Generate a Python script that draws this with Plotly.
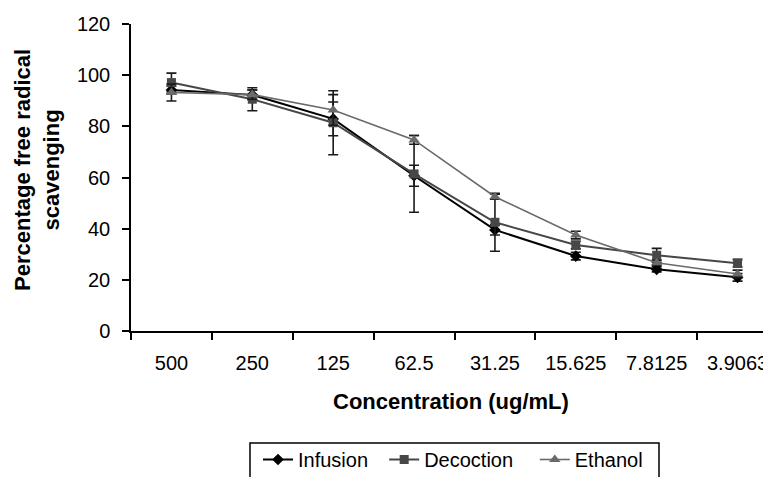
import plotly.graph_objects as go

categories = ["500", "250", "125", "62.5", "31.25", "15.625", "7.8125", "3.9063"]
infusion = [94.2, 92.3, 82.9, 60.7, 39.5, 29.3, 24.1, 21.0]
decoction = [97.1, 90.6, 81.4, 61.4, 42.5, 33.6, 29.6, 26.5]
ethanol = [93.2, 92.4, 86.4, 74.7, 52.5, 37.5, 26.7, 22.3]
infusion_err = [1.5, 1.9, 6.6, 4.1, 2.0, 1.5, 1.0, 1.5]
decoction_err = [3.7, 4.5, 12.5, 15.0, 11.3, 1.5, 2.7, 1.5]
ethanol_err = [3.3, 1.8, 6.0, 1.7, 1.0, 1.5, 1.0, 1.5]
legend_names = ["Infusion\u00a0\u00a0", "Decoction\u00a0\u00a0\u00a0", "Ethanol"]

FONT = "Liberation Sans, Arial, sans-serif"
OFF = 8  # page body margin in the browser
W, H = 771, 477
ML, MR, MT, MB = 131 - OFF, 1, 24 - OFF, 477 - (331 - OFF)
PW, PH = W - ML - MR, H - MT - MB


def px_x(p):
    return (p - OFF - ML) / PW


def px_y(p):
    return (H - MB - (p - OFF)) / PH


series = [
    (legend_names[0], infusion, infusion_err, "#000000", "diamond", 9, 2.0),
    (legend_names[1], decoction, decoction_err, "#474747", "square", 9, 2.0),
    (legend_names[2], ethanol, ethanol_err, "#6a6a6a", "triangle-up", 10, 1.6),
]

fig = go.Figure()
for name, vals, errs, col, sym, msize, lw in series:
    fig.add_trace(go.Scatter(
        x=categories, y=vals, name=name, mode="lines+markers",
        line=dict(color=col, width=lw),
        marker=dict(symbol=sym, size=msize, color=col),
        error_y=dict(type="data", array=errs, visible=True,
                     color="#1a1a1a", thickness=1.6, width=5),
    ))

fig.update_layout(
    width=W, height=H,
    margin=dict(l=ML, r=MR, t=MT, b=MB, pad=0),
    paper_bgcolor="white", plot_bgcolor="white",
    font=dict(family=FONT, size=20, color="black"),
    showlegend=True,
    legend=dict(orientation="h", x=px_x(258), xanchor="left",
                y=px_y(440), yanchor="top",
                bgcolor="rgba(0,0,0,0)", borderwidth=0,
                font=dict(family=FONT, size=20, color="black"),
                itemwidth=30, tracegroupgap=0),
    xaxis=dict(type="category", categoryorder="array", categoryarray=categories,
               range=[-0.5, 7.5], tickson="boundaries",
               showline=True, linecolor="black", linewidth=1.5,
               ticks="outside", ticklen=7, tickwidth=1.5, tickcolor="black",
               showgrid=False, zeroline=False, ticklabelstandoff=13,
               tickfont=dict(family=FONT, size=20, color="black")),
    yaxis=dict(range=[0, 120], dtick=20, tick0=0,
               showline=True, linecolor="black", linewidth=1.5,
               ticks="outside", ticklen=7, tickwidth=1.5, tickcolor="black",
               showgrid=False, zeroline=False, ticklabelstandoff=8,
               tickfont=dict(family=FONT, size=20, color="black")),
    annotations=[
        dict(text="<b>Concentration (ug/mL)</b>", xref="paper", yref="paper",
             x=px_x(451), y=px_y(401), xanchor="center", yanchor="middle",
             showarrow=False, font=dict(family=FONT, size=22, color="black")),
        dict(text="<b>Percentage free radical<br>scavenging</b>", xref="paper", yref="paper",
             x=px_x(37), y=px_y(170), xanchor="center", yanchor="middle",
             textangle=-90, showarrow=False,
             font=dict(family=FONT, size=22, color="black")),
    ],
    shapes=[
        dict(type="rect", xref="paper", yref="paper",
             x0=px_x(250), x1=px_x(659), y0=px_y(443), y1=px_y(500),
             line=dict(color="black", width=1.5), fillcolor="rgba(0,0,0,0)"),
    ],
)

fig.write_html("out.html")
